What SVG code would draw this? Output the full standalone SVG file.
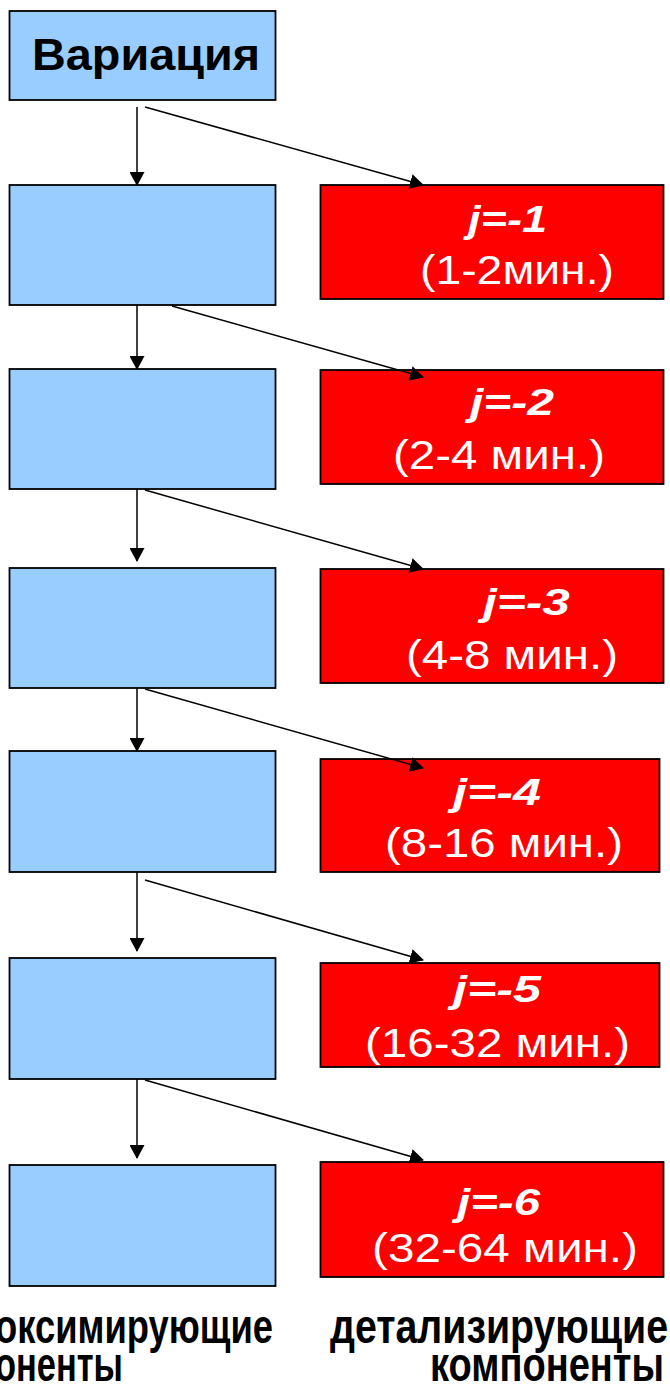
<svg xmlns="http://www.w3.org/2000/svg" width="670" height="1387" viewBox="0 0 670 1387">
<style>
.blue{fill:#99CCFF;stroke:#000;stroke-width:1.8}
.red{fill:#FF0000;stroke:#000;stroke-width:1.8}
.title{font-family:"Liberation Sans",Arial,sans-serif;font-weight:bold;font-size:45px;fill:#000}
.jl{font-family:"Liberation Sans",Arial,sans-serif;font-weight:bold;font-style:italic;font-size:37px;fill:#fff}
.rng{font-family:"Liberation Sans",Arial,sans-serif;font-size:40px;fill:#fff}
.cap{font-family:"Liberation Sans",Arial,sans-serif;font-weight:bold;font-size:49px;fill:#000}
.con line{stroke:#000;stroke-width:1.5;marker-end:url(#ah)}
</style>
<defs>
<marker id="ah" viewBox="0 0 14 15" refX="13" refY="7.5" markerWidth="14" markerHeight="15" markerUnits="userSpaceOnUse" orient="auto">
<path d="M0,0 L14,7.5 L0,15 z" fill="#000"/>
</marker>
</defs>
<g id="n0"><rect class="blue" x="9.5" y="11" width="266" height="89"/><text class="title" x="32" y="70" textLength="228" lengthAdjust="spacingAndGlyphs">Вариация</text></g>
<g id="a1"><rect class="blue" x="9.5" y="185" width="266" height="120"/></g>
<g id="a2"><rect class="blue" x="9.5" y="369" width="266" height="120"/></g>
<g id="a3"><rect class="blue" x="9.5" y="568" width="266" height="120"/></g>
<g id="a4"><rect class="blue" x="9.5" y="751" width="266" height="121"/></g>
<g id="a5"><rect class="blue" x="9.5" y="958" width="266" height="121"/></g>
<g id="a6"><rect class="blue" x="9.5" y="1165" width="266" height="121"/></g>
<g id="d1"><rect class="red" x="320.5" y="185" width="343" height="114"/><text class="jl" x="468" y="232" textLength="79" lengthAdjust="spacingAndGlyphs">j=-1</text><text class="rng" x="420" y="284" textLength="194" lengthAdjust="spacingAndGlyphs">(1-2мин.)</text></g>
<g id="d2"><rect class="red" x="320.5" y="370" width="343" height="114"/><text class="jl" x="470" y="415" textLength="84" lengthAdjust="spacingAndGlyphs">j=-2</text><text class="rng" x="393" y="469" textLength="212" lengthAdjust="spacingAndGlyphs">(2-4 мин.)</text></g>
<g id="d3"><rect class="red" x="320.5" y="569" width="343" height="114"/><text class="jl" x="483" y="615" textLength="87" lengthAdjust="spacingAndGlyphs">j=-3</text><text class="rng" x="406" y="669" textLength="212" lengthAdjust="spacingAndGlyphs">(4-8 мин.)</text></g>
<g id="d4"><rect class="red" x="320.5" y="759" width="339" height="113"/><text class="jl" x="453" y="805" textLength="88" lengthAdjust="spacingAndGlyphs">j=-4</text><text class="rng" x="385" y="857" textLength="238" lengthAdjust="spacingAndGlyphs">(8-16 мин.)</text></g>
<g id="d5"><rect class="red" x="320.5" y="963" width="339" height="104"/><text class="jl" x="453" y="1002" textLength="88" lengthAdjust="spacingAndGlyphs">j=-5</text><text class="rng" x="365" y="1057" textLength="265" lengthAdjust="spacingAndGlyphs">(16-32 мин.)</text></g>
<g id="d6"><rect class="red" x="320.5" y="1162" width="343" height="115"/><text class="jl" x="457" y="1215" textLength="83" lengthAdjust="spacingAndGlyphs">j=-6</text><text class="rng" x="372" y="1262" textLength="266" lengthAdjust="spacingAndGlyphs">(32-64 мин.)</text></g>
<g id="connectors" class="con">
<line x1="137" y1="107" x2="137" y2="185"/>
<line x1="145" y1="107" x2="423" y2="185"/>
<line x1="137" y1="305" x2="137" y2="369"/>
<line x1="172" y1="306" x2="423" y2="377"/>
<line x1="137" y1="489" x2="137" y2="561"/>
<line x1="145" y1="490" x2="423" y2="569"/>
<line x1="137" y1="688" x2="137" y2="751"/>
<line x1="145" y1="689" x2="423" y2="768"/>
<line x1="137" y1="872" x2="137" y2="951"/>
<line x1="145" y1="880" x2="423" y2="960"/>
<line x1="137" y1="1079" x2="137" y2="1158"/>
<line x1="145" y1="1080" x2="423" y2="1160"/>
</g>
<g id="labels">
<text class="cap" x="-5" y="1343" textLength="278" lengthAdjust="spacingAndGlyphs">оксимирующие</text>
<text class="cap" x="-5" y="1381" textLength="128" lengthAdjust="spacingAndGlyphs">оненты</text>
<text class="cap" x="330" y="1343" textLength="338" lengthAdjust="spacingAndGlyphs">детализирующие</text>
<text class="cap" x="430" y="1381" textLength="234" lengthAdjust="spacingAndGlyphs">компоненты</text>
</g>
</svg>
